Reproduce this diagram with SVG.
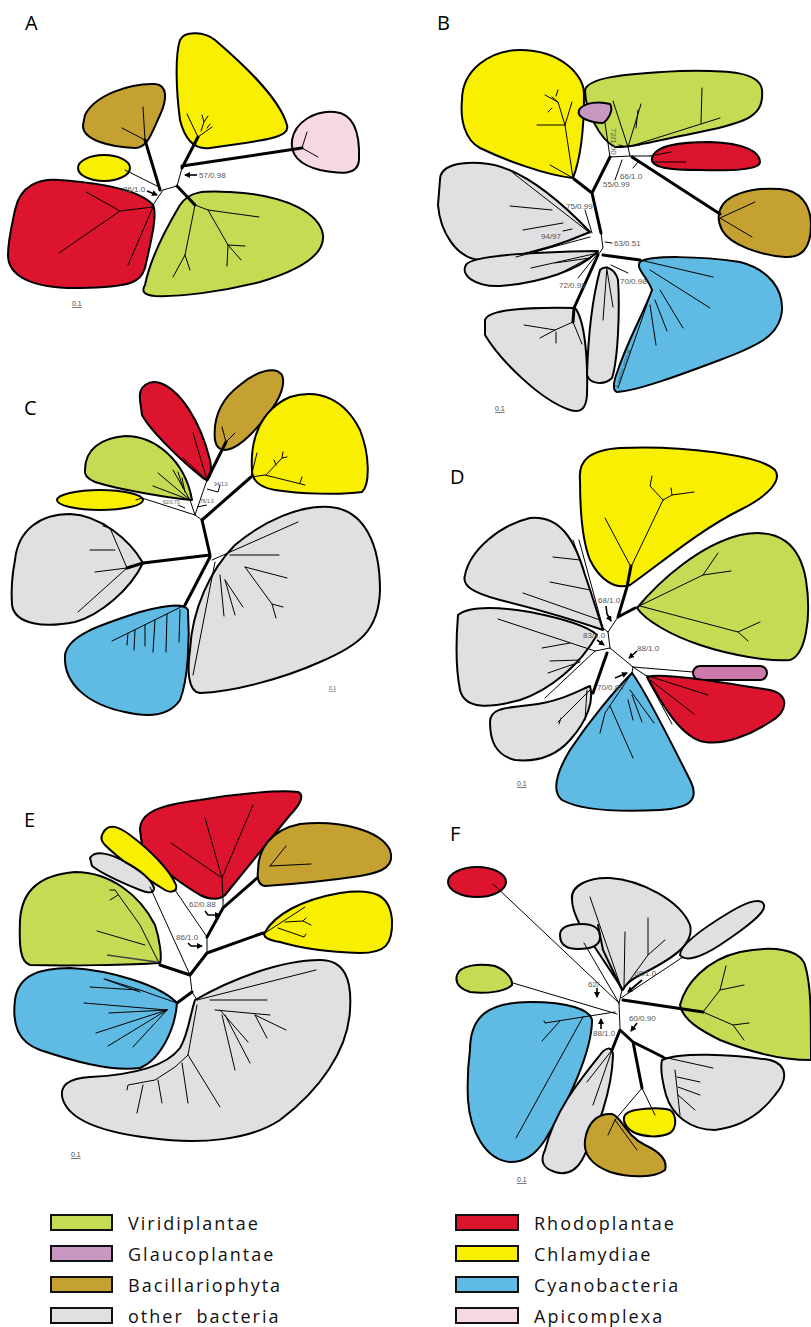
<svg xmlns="http://www.w3.org/2000/svg" width="811" height="1327" viewBox="0 0 811 1327">
<defs>
<marker id="ah" markerWidth="6" markerHeight="6" refX="5" refY="3" orient="auto" markerUnits="userSpaceOnUse"><path d="M0,0 L6,3 L0,6 z" fill="#000"/></marker>
<style>
.b{stroke:#000;stroke-width:2;stroke-linejoin:round}
.vir{fill:#c3dc54}.gla{fill:#c898c2}.glb{fill:#cc7aab}.bac{fill:#c4a131}.oth{fill:#e0e0e2}.rho{fill:#dc142e}.chl{fill:#f8f000}.cya{fill:#5fbae4}.api{fill:#f7d9e3}
.t{fill:none;stroke:#000;stroke-width:1;stroke-linecap:round}
.k{fill:none;stroke:#000;stroke-width:3;stroke-linecap:round}
.ar{fill:none;stroke:#000;stroke-width:1.6;marker-end:url(#ah)}
.lab{font-family:"Liberation Sans",Arial,sans-serif;font-size:8px;fill:#555}
.sm{font-family:"Liberation Sans",Arial,sans-serif;font-size:5px;fill:#555}
.pl{font-family:"Open Sans","Liberation Sans",sans-serif;font-size:20px;fill:#000}
.sc{font-family:"Liberation Sans",Arial,sans-serif;font-size:7px;fill:#444;text-decoration:underline}
.lg{font-family:"Open Sans","Liberation Sans",sans-serif;font-size:18px;fill:#111;letter-spacing:2px;word-spacing:6px}
.lb{stroke:#111;stroke-width:2}
</style>
</defs>
<rect width="811" height="1327" fill="#fff"/>

<!-- Panel A -->
<g id="panelA">
<text class="pl" x="25" y="30">A</text>
<g id="A-chl1"><path class="b chl" d="M180,40 C185,30 205,32 215,40 C250,70 280,100 287,125 C290,137 270,140 210,148 C195,150 185,140 180,120 C176,90 175,55 180,40 Z"/></g>
<g id="A-bac"><path class="b bac" d="M85,115 C95,95 130,83 155,84 C168,85 167,100 160,115 C152,132 148,148 135,148 C110,147 82,140 83,125 Z"/></g>
<g id="A-chl2"><ellipse class="b chl" cx="104" cy="168" rx="26" ry="13"/></g>
<g id="A-api"><path class="b api" d="M292,140 C295,122 315,110 335,112 C355,114 360,135 359,160 C358,176 340,174 320,170 C300,165 290,155 292,140 Z"/></g>
<g id="A-rho"><path class="b rho" d="M15,210 C20,185 40,178 60,180 C100,183 140,190 153,205 C158,215 150,245 145,268 C140,283 130,287 80,288 C30,289 8,275 8,255 C8,240 12,225 15,210 Z"/></g>
<g id="A-vir"><path class="b vir" d="M145,285 C150,260 165,230 180,205 C190,190 205,191 230,192 C290,195 320,215 323,235 C325,255 300,270 260,282 C220,292 180,297 155,296 C142,295 142,290 145,285 Z"/></g>
<g id="A-edges">
<path class="t" d="M163,190 L177,186 L182,168 M163,190 L153,205 M161,188 L125,170"/>
<path class="k" d="M160,190 L145,140 M177,186 L195,205 M182,168 L198,137 M182,166 L302,148"/>
<path class="t" d="M145,140 L143,107 M145,140 L122,128"/>
<path class="t" d="M153,207 L120,211 L86,192 M120,211 L59,253 M153,207 L128,265"/>
<path class="t" d="M195,205 L208,210 L259,217 M208,210 L228,245 L245,246 M228,245 L241,260 M228,245 L227,266 M195,205 L185,255 L173,277 M185,255 L190,270"/>
<path class="t" d="M198,137 L187,114 M198,137 L212,127 M201,131 L204,122 L202,115 M204,122 L208,116 M207,128 L210,124"/>
<path class="t" d="M302,148 L307,132 M302,148 L318,157"/>
<path class="ar" d="M147,191 L157,195"/>
<path class="ar" d="M197,175 L185,175"/>
</g>
<text class="lab" x="123" y="192">86/1.0</text>
<text class="lab" x="199" y="178">57/0.98</text>
<text class="sc" x="72" y="306">0.1</text>
</g>

<!-- Panel B -->
<g id="panelB">
<text class="pl" x="437" y="30">B</text>
<g id="B-chl"><path class="b chl" d="M462,100 C462,70 490,50 520,50 C560,50 585,75 584,95 C584,130 580,160 573,178 C545,175 505,160 480,148 C465,140 460,120 462,100 Z"/></g>
<g id="B-vir"><path class="b vir" d="M585,90 C588,78 620,74 680,71 C730,70 760,72 762,90 C764,115 750,122 700,132 C660,140 630,148 615,147 C600,140 585,110 585,90 Z"/></g>
<g id="B-gla"><path class="b gla" d="M579,110 C584,102 600,101 610,104 C614,110 608,120 603,123 C592,123 576,118 579,110 Z"/></g>
<g id="B-rho"><path class="b rho" d="M652,158 C655,145 680,142 710,142 C745,143 760,152 760,162 C760,170 730,171 700,170 C670,170 650,168 652,158 Z"/></g>
<g id="B-bac"><path class="b bac" d="M720,210 C725,195 750,187 780,189 C800,190 811,205 811,225 C811,250 800,258 785,257 C760,255 730,245 722,230 C718,222 718,215 720,210 Z"/></g>
<g id="B-oth1"><path class="b oth" d="M440,180 C440,165 460,162 480,163 C510,164 545,185 590,232 C560,245 520,258 480,260 C455,258 440,230 438,205 Z"/></g>
<g id="B-oth2"><path class="b oth" d="M466,265 C470,255 540,252 598,251 C580,270 540,283 500,286 C475,287 460,275 466,265 Z"/></g>
<g id="B-oth3"><path class="b oth" d="M485,320 C488,310 520,307 575,308 C585,320 588,360 587,395 C586,410 580,413 570,410 C540,400 500,360 485,335 Z"/></g>
<g id="B-oth4"><path class="b oth" d="M600,270 C605,265 615,268 618,280 C620,310 618,360 612,378 C605,385 590,385 587,375 C588,340 592,300 600,270 Z"/></g>
<g id="B-cya"><path class="b cya" d="M640,262 C650,255 700,256 740,262 C770,270 783,290 782,310 C780,335 760,345 720,360 C680,375 640,390 617,392 C612,390 614,380 618,370 C628,340 645,310 652,290 C648,278 635,268 640,262 Z"/></g>
<g id="B-edges">
<path class="k" d="M592,193 L601,233 M592,193 L574,179 M592,193 L610,157 M632,157 L720,214 M603,255 L640,260 M598,255 L574,308 L573,322"/>
<path class="t" d="M601,233 L603,248 L598,255 M610,157 L605,123 M610,157 L630,156 L628,147 M630,156 L650,156"/>
<path class="t" d="M573,178 L565,125 L537,125 M565,125 L558,102 L545,95 M558,102 L552,97 M552,108 L548,112 M565,125 L572,102 M573,178 L550,165 M556,96 L558,90"/>
<path class="t" d="M628,147 L613,101 M628,147 L641,104 M636,128 L638,110 M628,147 L720,118 M701,123 L702,88"/>
<path class="t" d="M650,156 L671,152 M652,162 L686,162"/>
<path class="t" d="M720,218 L755,202 M720,218 L752,237"/>
<path class="t" d="M590,233 L513,173 M510,206 L552,210 M523,230 L563,223 M516,257 L590,237 M563,231 L572,229"/>
<path class="t" d="M598,253 L531,268 M598,253 L557,275 M590,258 L555,263"/>
<path class="t" d="M573,322 L555,330 L524,325 M555,330 L540,338 M556,332 L556,343 M573,322 L582,344"/>
<path class="t" d="M607,267 L603,320 M607,270 L613,307"/>
<path class="t" d="M640,260 L713,277 M650,270 L710,308 M660,290 L683,328 M655,300 L667,331 M650,305 L656,345 M652,290 L618,388"/>
<path class="t" d="M585,210 L592,233 M605,242 L612,243 M578,278 L598,253 M628,273 L611,265 M615,180 L622,160 M633,168 L638,162 M619,145 L623,146"/>
</g>
<text class="lab" x="566" y="209">75/0.99</text>
<text class="lab" x="541" y="239">94/97</text>
<text class="lab" x="614" y="246">63/0.51</text>
<text class="lab" x="559" y="288">72/0.99</text>
<text class="lab" x="620" y="284">70/0.98</text>
<text class="lab" x="603" y="187">55/0.99</text>
<text class="lab" x="620" y="179">66/1.0</text>
<text class="lab" transform="translate(611,128) rotate(90)">72/1.00</text>
<text font-family="Liberation Sans,Arial,sans-serif" font-size="4.5" fill="#234" transform="translate(618,388) rotate(-72)">S ynechoc occus sp.</text>
<text class="sc" x="495" y="411">0.1</text>
</g>

<!-- Panel C -->
<g id="panelC">
<text class="pl" x="24" y="415">C</text>
<g id="C-rho"><path class="b rho" d="M140,400 C138,385 150,380 160,383 C180,390 200,420 210,460 C213,475 208,483 203,478 C180,460 150,430 142,415 Z"/></g>
<g id="C-bac"><path class="b bac" d="M215,440 C213,420 220,400 240,385 C255,372 275,365 282,375 C288,390 270,415 250,435 C235,450 218,457 215,440 Z"/></g>
<g id="C-chl1"><path class="b chl" d="M252,470 C250,440 260,410 290,397 C320,388 345,400 360,430 C370,455 370,485 362,492 C340,495 300,494 275,490 C258,487 252,480 252,470 Z"/></g>
<g id="C-vir"><path class="b vir" d="M85,470 C85,450 100,438 125,436 C155,436 185,460 192,500 C170,498 120,490 95,482 C86,478 84,474 85,470 Z"/></g>
<g id="C-chl2"><ellipse class="b chl" cx="100" cy="500" rx="43" ry="10"/></g>
<g id="C-oth1"><path class="b oth" d="M15,560 C18,530 40,514 70,514 C100,515 130,540 143,563 C130,590 100,615 75,622 C45,628 15,625 12,605 C11,590 12,575 15,560 Z"/></g>
<g id="C-cya"><path class="b cya" d="M65,655 C68,635 100,625 140,612 C165,605 185,603 188,610 C190,640 188,680 180,700 C170,715 150,718 125,712 C90,705 63,685 65,655 Z"/></g>
<g id="C-oth2"><path class="b oth" d="M190,650 C192,610 210,570 235,545 C265,520 300,505 330,507 C365,510 380,545 380,590 C379,630 360,645 320,662 C280,680 230,692 200,693 C188,692 187,670 190,650 Z"/></g>
<g id="C-edges">
<path class="k" d="M210,555 L202,520 M202,520 L251,477 M210,555 L143,563 L127,568 M210,557 L185,605 M207,480 L226,442"/>
<path class="t" d="M202,520 L195,515 L142,498 M195,515 L190,500 M195,515 L207,480 M142,498 L136,500"/>
<path class="t" d="M207,480 L193,433 M207,480 L183,458 M226,442 L222,427 M226,442 L235,433"/>
<path class="t" d="M190,500 L158,473 M190,500 L153,486 M190,500 L173,470 M183,488 L178,472 M185,492 L182,478"/>
<path class="t" d="M251,477 L257,453 M251,477 L265,475 L305,485 M266,475 L282,458 L283,452 M282,458 L287,457 M276,465 L274,460 M300,483 L302,477"/>
<path class="t" d="M127,568 L110,528 L103,526 M115,550 L90,550 M127,568 L95,572 M127,568 L78,612"/>
<path class="t" d="M212,560 L298,522 M230,555 L279,555 M245,567 L287,578 M245,567 L272,604 L283,607 M272,604 L276,618 M220,575 L224,616 M225,580 L235,615 M225,580 L243,607 M215,562 L193,675"/>
<path class="t" d="M185,605 L112,641 M128,633 L127,645 M135,630 L134,650 M145,625 L145,646 M155,620 L153,652 M167,614 L166,652 M180,610 L179,642"/>
<path fill="none" stroke="#000" stroke-width="1" d="M207,489 L218,492 L220,485 M197,507 L207,505 M178,505 L185,508"/>
</g>
<text class="sm" x="214" y="486">94/1.0</text>
<text class="sm" x="200" y="503">76/1.0</text>
<text class="sm" x="163" y="504">62/0.70</text>
<text class="sc" x="329" y="690" style="font-size:5px">0.1</text>
</g>

<!-- Panel D -->
<g id="panelD">
<text class="pl" x="450" y="484">D</text>
<g id="D-chl"><path class="b chl" d="M580,480 C578,460 590,450 620,448 C680,445 760,455 775,470 C782,480 770,495 740,510 C700,530 665,560 630,585 C615,590 600,580 590,560 C582,540 580,510 580,480 Z"/></g>
<g id="D-vir"><path class="b vir" d="M637,608 C660,580 700,545 740,535 C780,527 800,545 806,580 C812,620 805,655 790,660 C770,662 730,655 700,645 C670,635 645,620 637,608 Z"/></g>
<g id="D-gla"><rect class="b glb" x="693" y="666" width="74" height="14" rx="7"/></g>
<g id="D-rho"><path class="b rho" d="M647,677 C660,672 720,682 770,690 C790,695 788,712 770,722 C750,735 725,745 705,742 C680,738 660,700 647,677 Z"/></g>
<g id="D-cya"><path class="b cya" d="M632,673 C645,690 670,740 690,780 C700,800 690,808 660,810 C620,812 580,810 562,800 C550,790 558,770 570,750 C590,720 615,690 632,673 Z"/></g>
<g id="D-oth1"><path class="b oth" d="M465,575 C470,550 500,525 530,518 C560,515 575,540 585,575 C592,595 598,615 603,630 C580,622 540,610 500,600 C470,592 462,585 465,575 Z"/></g>
<g id="D-oth2"><path class="b oth" d="M458,615 C470,605 500,607 530,612 C570,620 590,628 597,635 C580,665 550,690 520,700 C490,708 465,710 460,690 C455,665 456,640 458,615 Z"/></g>
<g id="D-oth3"><path class="b oth" d="M490,722 C490,710 500,708 530,705 C560,702 580,690 590,686 C594,700 588,720 570,740 C555,757 535,762 515,760 C495,755 490,740 490,722 Z"/></g>
<g id="D-edges">
<path class="k" d="M618,617 L627,587 L631,566 M618,617 L635,608 M607,653 L593,693"/>
<path class="t" d="M608,632 L618,617 M608,632 L610,648 M608,632 L603,628 M610,648 L595,651 M610,648 L633,667 L693,672 M633,667 L645,675 M633,667 L632,673"/>
<path class="t" d="M631,567 L663,500 L672,495 L694,492 M663,500 L650,486 L652,476 M672,495 L671,488 M631,567 L605,518"/>
<path class="t" d="M635,608 L703,575 L718,553 M703,575 L731,571 M640,606 L738,632 L760,622 M738,632 L748,641"/>
<path class="t" d="M645,675 L708,695 M650,680 L694,714 M648,680 L672,724"/>
<path class="t" d="M632,673 L605,713 L600,733 M610,706 L633,758 M630,690 L654,723 M632,695 L642,722 M628,700 L633,720"/>
<path class="t" d="M603,628 L573,540 M580,560 L553,557 M590,590 L550,582 M600,620 L523,593 M603,628 L579,540"/>
<path class="t" d="M595,651 L498,619 M570,643 L542,648 M580,660 L550,661 M580,662 L548,673 M595,651 L545,698"/>
<path class="t" d="M590,690 L562,718 L558,722 M561,718 L559,724 M587,690 L585,720"/>
<path class="ar" d="M606,606 L607,614 L611,621"/>
<path class="ar" d="M597,640 L604,645"/>
<path class="ar" d="M637,651 L629,658"/>
<path class="ar" d="M615,678 L627,673"/>
</g>
<text class="lab" x="598" y="603">68/1.0</text>
<text class="lab" x="583" y="638">83/1.0</text>
<text class="lab" x="637" y="651">88/1.0</text>
<text class="lab" x="597" y="690">70/0.89</text>
<text class="sc" x="517" y="786">0.1</text>
</g>

<!-- Panel E -->
<g id="panelE">
<text class="pl" x="24" y="827">E</text>
<g id="E-rho"><path class="b rho" d="M140,830 C140,812 160,805 200,800 C240,793 280,790 298,792 C305,795 300,805 290,815 C270,840 245,870 225,895 C220,900 210,900 200,895 C175,880 150,860 142,845 Z"/></g>
<g id="E-chl1"><path class="b chl" d="M103,833 C108,823 118,826 130,835 C150,850 170,870 176,885 C178,892 170,893 165,890 C140,875 115,855 105,845 C100,840 101,836 103,833 Z"/></g>
<g id="E-oth1"><path class="b oth" d="M90,858 C95,850 110,853 125,862 C140,870 152,880 154,888 C154,894 147,893 140,890 C120,882 100,872 92,866 Z"/></g>
<g id="E-bac"><path class="b bac" d="M258,870 C258,850 270,830 300,824 C340,820 380,830 390,850 C395,865 385,872 360,876 C320,882 280,885 265,886 C258,885 257,878 258,870 Z"/></g>
<g id="E-chl2"><path class="b chl" d="M265,932 C275,915 300,900 340,893 C375,888 390,895 392,920 C393,945 385,953 360,953 C330,952 300,948 280,942 C268,940 262,937 265,932 Z"/></g>
<g id="E-vir"><path class="b vir" d="M20,920 C22,890 40,875 75,872 C110,872 140,895 155,925 C160,940 162,958 160,963 C130,965 70,966 30,965 C20,962 19,945 20,920 Z"/></g>
<g id="E-cya"><path class="b cya" d="M15,1000 C18,975 40,968 70,968 C110,970 160,985 177,1003 C175,1030 160,1060 140,1068 C110,1072 70,1060 40,1050 C18,1042 12,1025 15,1000 Z"/></g>
<g id="E-oth2"><path class="b oth" d="M195,1000 C230,980 280,960 320,960 C345,960 352,980 350,1010 C348,1050 320,1090 280,1120 C250,1140 200,1145 150,1138 C100,1132 70,1120 63,1100 C58,1085 70,1078 90,1077 C130,1075 165,1068 180,1048 C188,1035 190,1015 195,1000 Z"/></g>
<g id="E-edges">
<path class="k" d="M207,953 L190,975 M207,953 L263,933 M207,937 L223,908 L257,878 M190,975 L160,965 M192,992 L177,1003"/>
<path class="t" d="M190,975 L192,992 L197,1000 M207,937 L207,953 M223,908 L223,900 M207,937 L175,890 M190,975 L150,887"/>
<path class="t" d="M223,900 L222,878 L205,818 M222,878 L253,805 M222,878 L171,843"/>
<path class="t" d="M270,866 L286,846 M270,866 L311,864"/>
<path class="t" d="M265,933 L305,907 M285,922 L303,921 L311,925 M303,921 L306,918 M278,928 L304,937 L306,934"/>
<path class="t" d="M160,965 L140,925 L115,890 L110,890 M145,945 L97,931 M118,895 L110,900"/>
<path stroke="#444" stroke-width="1.5" d="M157,962 L107,955"/>
<path class="t" d="M177,1003 L140,990 L105,979 M138,990 L90,987 M167,1010 L84,1003 M167,1010 L109,1013 M167,1010 L96,1033 M167,1010 L108,1046 M167,1010 L133,1047 M140,992 L104,979"/>
<path class="t" d="M197,1000 L316,970 M210,1000 L267,1000 M215,1010 L270,1015 M255,1015 L286,1030 M255,1015 L267,1038 M220,1010 L248,1042 M222,1015 L235,1070 M225,1015 L250,1063 M197,1005 L188,1055 L175,1067 L155,1080 L128,1085 L127,1090 M188,1055 L220,1107 M182,1063 L188,1103 M158,1080 L162,1103 M143,1085 L137,1113"/>
<path class="ar" d="M205,911 L208,915 L220,915"/>
<path class="ar" d="M188,943 L191,946 L202,946"/>
</g>
<text class="lab" x="189" y="907">62/0.88</text>
<text class="lab" x="176" y="940">86/1.0</text>
<text class="sc" x="71" y="1157">0.1</text>
</g>

<!-- Panel F -->
<g id="panelF">
<text class="pl" x="450" y="841">F</text>
<g id="F-rho"><ellipse class="b rho" cx="477" cy="882" rx="29" ry="15"/></g>
<g id="F-oth1"><path class="b oth" d="M572,900 C570,885 590,877 610,878 C640,880 680,900 690,925 C695,945 670,960 640,975 C630,980 625,985 623,990 C610,970 590,940 580,925 C575,915 572,908 572,900 Z"/></g>
<g id="F-oth2"><path class="b oth" d="M560,935 C560,926 570,924 582,924 C595,924 600,930 600,937 C600,946 590,949 578,949 C565,949 560,944 560,935 Z"/></g>
<g id="F-oth3"><path class="b oth" d="M680,955 C680,945 700,930 730,912 C750,900 762,898 764,905 C766,912 750,925 720,945 C700,958 685,962 680,955 Z"/></g>
<g id="F-vir1"><path class="b vir" d="M457,975 C460,965 480,963 495,966 C505,970 513,978 512,985 C505,992 485,994 470,992 C458,988 455,982 457,975 Z"/></g>
<g id="F-vir2"><path class="b vir" d="M680,1005 C685,985 705,960 740,952 C775,945 800,950 805,965 C811,985 811,1010 811,1060 C780,1060 745,1050 720,1040 C700,1030 683,1020 680,1005 Z"/></g>
<g id="F-cya"><path class="b cya" d="M470,1050 C470,1015 490,1002 530,1002 C570,1002 590,1010 592,1020 C592,1050 570,1100 545,1140 C535,1155 525,1162 510,1162 C485,1160 470,1130 468,1100 C467,1080 468,1065 470,1050 Z"/></g>
<g id="F-oth4"><path class="b oth" d="M545,1150 C555,1110 580,1080 600,1055 C605,1048 612,1045 613,1055 C612,1090 598,1130 582,1160 C575,1172 565,1175 555,1172 C542,1168 540,1160 545,1150 Z"/></g>
<g id="F-bac"><path class="b bac" d="M585,1140 C588,1120 600,1113 612,1114 C622,1117 625,1135 645,1145 C660,1152 668,1160 665,1170 C655,1178 630,1178 610,1172 C592,1165 583,1155 585,1140 Z"/></g>
<g id="F-chl"><path class="b chl" d="M625,1115 C630,1108 660,1107 670,1110 C677,1115 677,1128 670,1133 C660,1138 645,1137 635,1133 C625,1128 622,1120 625,1115 Z"/></g>
<g id="F-oth5"><path class="b oth" d="M662,1060 C680,1052 730,1054 770,1060 C788,1065 788,1080 775,1095 C760,1115 740,1127 715,1130 C690,1130 672,1115 666,1095 C662,1080 660,1068 662,1060 Z"/></g>
<g id="F-edges">
<path class="t" d="M619,1003 L493,884 M619,1003 L584,943 M617,1014 L513,983 M615,1012 L583,1017 M619,1003 L620,1028 M621,998 L683,957 M619,1003 L622,990"/>
<path class="k" d="M623,1000 L703,1012 M620,1030 L612,1050 M620,1030 L633,1042 M633,1042 L642,1088 M633,1042 L663,1057"/>
<path class="t" d="M622,990 L590,897 M624,988 L625,932 M624,988 L648,955 L648,918 M648,955 L665,940"/>
<path class="k" style="stroke-width:2" d="M622,990 L603,950 L598,925"/>
<path class="t" d="M703,1012 L720,990 L726,966 M720,990 L744,985 M703,1012 L733,1025 L749,1023 M733,1025 L744,1040"/>
<path class="t" d="M612,1050 L587,1082 M612,1050 L593,1105"/>
<path class="t" d="M642,1088 L655,1115 M642,1088 L615,1120 L608,1135 M615,1120 L637,1150"/>
<path class="t" d="M663,1057 L713,1068 M675,1070 L680,1115 M677,1077 L700,1082 M678,1087 L700,1095 M678,1095 L695,1110"/>
<path class="t" d="M583,1017 L545,1023 L544,1021 M560,1021 L542,1041 M583,1017 L516,1138"/>
<path class="ar" style="stroke-width:2" d="M642,980 L628,992"/>
<path class="ar" d="M597,988 L597,997"/>
<path class="ar" d="M601,1029 L601,1019"/>
<path class="ar" d="M637,1023 L631,1031"/>
</g>
<text class="lab" x="634" y="976">68/1.0</text>
<text class="lab" x="588" y="987">62/-</text>
<text class="lab" x="593" y="1036">88/1.0</text>
<text class="lab" x="629" y="1021">60/0.90</text>
<text class="sc" x="517" y="1182">0.1</text>
</g>

<!-- Legend -->
<g id="legend">
<rect class="lb vir" x="51" y="1215" width="61" height="15"/>
<text class="lg" x="128" y="1230">Viridiplantae</text>
<rect class="lb gla" x="51" y="1246" width="61" height="15"/>
<text class="lg" x="128" y="1261">Glaucoplantae</text>
<rect class="lb bac" x="51" y="1277" width="61" height="15"/>
<text class="lg" x="128" y="1292">Bacillariophyta</text>
<rect class="lb oth" x="51" y="1308" width="61" height="15"/>
<text class="lg" x="128" y="1323">other bacteria</text>
<rect class="lb rho" x="456" y="1215" width="62" height="15"/>
<text class="lg" x="534" y="1230">Rhodoplantae</text>
<rect class="lb chl" x="456" y="1246" width="62" height="15"/>
<text class="lg" x="534" y="1261">Chlamydiae</text>
<rect class="lb cya" x="456" y="1277" width="62" height="15"/>
<text class="lg" x="534" y="1292">Cyanobacteria</text>
<rect class="lb api" x="456" y="1308" width="62" height="15"/>
<text class="lg" x="534" y="1323">Apicomplexa</text>
</g>
</svg>
